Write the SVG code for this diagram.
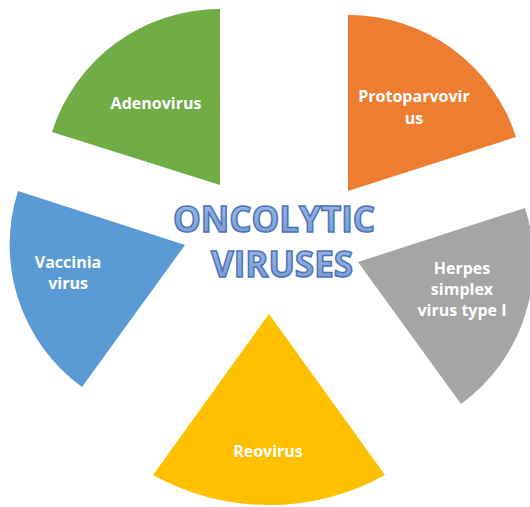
<svg xmlns="http://www.w3.org/2000/svg" width="530" height="507" viewBox="0 0 530 507">
  <style>
    .label { font-family: "Open Sans", "Liberation Sans", sans-serif; font-weight: bold; font-size: 16px; fill: #ffffff; text-anchor: middle; }
    .title { font-family: "Open Sans", "Liberation Sans", sans-serif; font-weight: bold; font-size: 35px; fill: url(#titleFill); stroke: #4a74b8; stroke-width: 1.5; text-anchor: middle; }
  </style>
  <defs>
    <linearGradient id="titleFill" x1="0" y1="0" x2="0" y2="1">
      <stop offset="0" stop-color="#a0bae5"/>
      <stop offset="1" stop-color="#7599d3"/>
    </linearGradient>
  </defs>
  <rect width="530" height="507" fill="#ffffff"/>

  <g id="adenovirus">
    <path d="M220 185 L220 9 A176 176 0 0 0 52 132 Z" fill="#70ad47"/>
    <text class="label" x="156" y="109">Adenovirus</text>
  </g>

  <g id="protoparvovirus">
    <path d="M348 191 L348 15 A176 176 0 0 1 516 137 Z" fill="#ed7d31"/>
    <text class="label" x="414" y="102">Protoparvovir</text>
    <text class="label" x="414" y="124">us</text>
  </g>

  <g id="herpes-simplex">
    <path d="M358 262 L525 208 A176 176 0 0 1 461 404 Z" fill="#a5a5a5"/>
    <text class="label" x="462" y="274">Herpes</text>
    <text class="label" x="462" y="295">simplex</text>
    <text class="label" x="462" y="316">virus type I</text>
  </g>

  <g id="reovirus">
    <path d="M269 314 L385 475 A239 239 0 0 1 153 475 Z" fill="#ffc000"/>
    <text class="label" x="268" y="457">Reovirus</text>
  </g>

  <g id="vaccinia">
    <path d="M185 245 L18 191 A176 176 0 0 0 82 387 Z" fill="#5b9bd5"/>
    <text class="label" x="68" y="268">Vaccinia</text>
    <text class="label" x="68" y="289">virus</text>
  </g>

  <g id="title">
    <text class="title" x="274" y="232">ONCOLYTIC</text>
    <text class="title" x="282" y="277">VIRUSES</text>
  </g>

  <g id="connectors"></g>
</svg>
